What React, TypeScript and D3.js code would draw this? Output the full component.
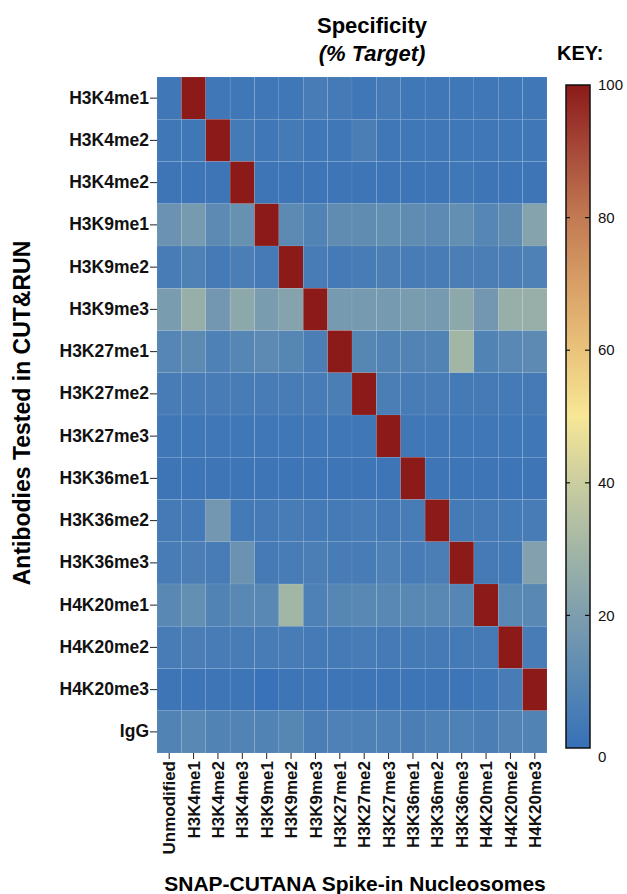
import { useEffect, useRef } from "react";
import * as d3 from "d3";

// antibodies (rows) and spike-in nucleosomes (columns)
const rowLabels = [
  "H3K4me1", "H3K4me2", "H3K4me2", "H3K9me1", "H3K9me2", "H3K9me3",
  "H3K27me1", "H3K27me2", "H3K27me3", "H3K36me1", "H3K36me2", "H3K36me3",
  "H4K20me1", "H4K20me2", "H4K20me3", "IgG",
];
const colLabels = [
  "Unmodified", "H3K4me1", "H3K4me2", "H3K4me3", "H3K9me1", "H3K9me2",
  "H3K9me3", "H3K27me1", "H3K27me2", "H3K27me3", "H3K36me1", "H3K36me2",
  "H3K36me3", "H4K20me1", "H4K20me2", "H4K20me3",
];

// % target, one row per antibody
const specificity = [
  [3, 100, 3, 3, 3, 3, 5, 4, 3, 4, 3, 3, 3, 3, 3, 3],
  [3, 3, 100, 4, 3, 4, 3, 3, 6, 3, 3, 3, 3, 3, 3, 3],
  [2, 2, 2, 100, 2, 2, 2, 2, 2, 2, 2, 2, 3, 2, 2, 2],
  [15, 18, 11, 14, 100, 11, 8, 12, 12, 13, 12, 11, 13, 9, 12, 22],
  [5, 7, 4, 6, 4, 100, 5, 4, 5, 6, 5, 5, 6, 6, 6, 7],
  [19, 27, 17, 24, 19, 22, 100, 18, 18, 18, 19, 18, 24, 17, 27, 27],
  [9, 11, 7, 9, 11, 9, 6, 100, 9, 8, 8, 8, 30, 8, 10, 11],
  [5, 5, 5, 5, 5, 5, 5, 6, 100, 6, 5, 5, 4, 4, 4, 4],
  [3, 3, 3, 3, 3, 3, 3, 3, 3, 100, 3, 3, 3, 3, 3, 3],
  [2, 2, 2, 2, 2, 2, 2, 2, 2, 2, 100, 2, 2, 2, 2, 2],
  [4, 4, 17, 4, 4, 5, 4, 4, 5, 4, 5, 100, 4, 4, 4, 5],
  [5, 6, 5, 15, 4, 5, 6, 5, 5, 7, 5, 6, 100, 4, 4, 21],
  [10, 13, 8, 10, 10, 30, 7, 9, 10, 10, 10, 10, 9, 100, 10, 10],
  [5, 6, 5, 5, 5, 5, 4, 4, 5, 4, 4, 4, 4, 4, 100, 5],
  [2, 2, 2, 2, 1, 2, 2, 2, 2, 2, 2, 2, 2, 3, 5, 100],
  [8, 10, 8, 8, 8, 9, 6, 7, 7, 7, 6, 7, 7, 6, 8, 8],
];

const colorStops = [0, 10, 20, 30, 40, 50, 60, 70, 80, 90, 100];
const colorRange = [
  "#3670b8", "#5888b3", "#7e9eae", "#a2b6a6", "#cacd9f", "#f7e796",
  "#eac37b", "#d89f66", "#c27a52", "#a84a3a", "#8b1a18",
];
const keyTicks = [0, 20, 40, 60, 80, 100];

export default function App() {
  const ref = useRef<SVGSVGElement>(null);

  useEffect(() => {
    const svg = d3.select(ref.current);
    svg.selectAll("*").remove();

    const font = "'Liberation Sans', Arial, Helvetica, sans-serif";
    const left = 157, right = 547, top = 77, bottom = 753;

    const x = d3.scaleBand().domain(colLabels.map((_, i) => String(i))).range([left, right]);
    const y = d3.scaleBand().domain(rowLabels.map((_, i) => String(i))).range([top, bottom]);
    const color = d3.scaleLinear<string>().domain(colorStops).range(colorRange).clamp(true);

    // cells
    const cells = specificity.flatMap((row, r) => row.map((v, c) => ({ r, c, v })));
    svg
      .append("g")
      .selectAll("rect")
      .data(cells)
      .enter()
      .append("rect")
      .attr("x", (d) => x(String(d.c))!)
      .attr("y", (d) => y(String(d.r))!)
      .attr("width", x.bandwidth())
      .attr("height", y.bandwidth())
      .attr("fill", (d) => color(d.v))
      .attr("stroke", "rgba(255,255,255,0.12)")
      .attr("stroke-width", 0.6);

    // row axis
    const yAxis = svg
      .append("g")
      .attr("transform", `translate(${left},0)`)
      .call(d3.axisLeft(y).tickSize(7).tickFormat((d) => rowLabels[+d]));
    yAxis.select(".domain").remove();
    yAxis.selectAll("line").attr("stroke", "#222");
    yAxis
      .selectAll("text")
      .attr("font-family", font)
      .attr("font-size", 17.5)
      .attr("font-weight", "bold")
      .attr("fill", "#111")
      .attr("x", -8);

    // column axis
    const xAxis = svg
      .append("g")
      .attr("transform", `translate(0,${bottom})`)
      .call(d3.axisBottom(x).tickSize(6).tickFormat((d) => colLabels[+d]));
    xAxis.select(".domain").remove();
    xAxis.selectAll("line").attr("stroke", "#222");
    xAxis
      .selectAll("text")
      .attr("font-family", font)
      .attr("font-size", 17)
      .attr("font-weight", "bold")
      .attr("fill", "#111")
      .attr("transform", "rotate(-90)")
      .attr("text-anchor", "end")
      .attr("x", -8)
      .attr("y", 0)
      .attr("dy", "0.36em");

    // titles
    svg.append("text")
      .attr("x", 372).attr("y", 33)
      .attr("text-anchor", "middle")
      .attr("font-family", font).attr("font-size", 22).attr("font-weight", "bold")
      .text("Specificity");
    svg.append("text")
      .attr("x", 372).attr("y", 61)
      .attr("text-anchor", "middle")
      .attr("font-family", font).attr("font-size", 22).attr("font-weight", "bold")
      .attr("font-style", "italic")
      .text("(% Target)");
    svg.append("text")
      .attr("x", 557).attr("y", 60)
      .attr("font-family", font).attr("font-size", 20).attr("font-weight", "bold")
      .text("KEY:");
    svg.append("text")
      .attr("transform", "translate(30,413) rotate(-90)")
      .attr("text-anchor", "middle")
      .attr("font-family", font).attr("font-size", 23).attr("font-weight", "bold")
      .text("Antibodies Tested in CUT&RUN");
    svg.append("text")
      .attr("x", 355).attr("y", 891)
      .attr("text-anchor", "middle")
      .attr("font-family", font).attr("font-size", 21).attr("font-weight", "bold")
      .text("SNAP-CUTANA Spike-in Nucleosomes");

    // colour key
    const kx = 566, kw = 24, ky0 = 85, ky1 = 748;
    const ky = d3.scaleLinear().domain([0, 100]).range([ky1, ky0]);
    const grad = svg
      .append("defs")
      .append("linearGradient")
      .attr("id", "keygrad")
      .attr("x1", 0).attr("y1", 1).attr("x2", 0).attr("y2", 0);
    grad
      .selectAll("stop")
      .data(colorStops)
      .enter()
      .append("stop")
      .attr("offset", (d) => `${d}%`)
      .attr("stop-color", (d) => color(d));
    svg.append("rect")
      .attr("x", kx).attr("y", ky0)
      .attr("width", kw).attr("height", ky1 - ky0)
      .attr("fill", "url(#keygrad)")
      .attr("stroke", "#111").attr("stroke-width", 1.5);

    const inner = keyTicks.filter((t) => t > 0 && t < 100);
    svg.append("g")
      .selectAll("line.l")
      .data(inner)
      .enter()
      .append("line")
      .attr("x1", kx).attr("x2", kx + 4)
      .attr("y1", (d) => ky(d)).attr("y2", (d) => ky(d))
      .attr("stroke", "#111").attr("stroke-width", 1.2);
    svg.append("g")
      .selectAll("line.r")
      .data(inner)
      .enter()
      .append("line")
      .attr("x1", kx + kw - 5).attr("x2", kx + kw)
      .attr("y1", (d) => ky(d)).attr("y2", (d) => ky(d))
      .attr("stroke", "#111").attr("stroke-width", 1.2);
    svg.append("g")
      .selectAll("text")
      .data(keyTicks)
      .enter()
      .append("text")
      .attr("x", 598)
      .attr("y", (d) => ky(d) + (d === 0 ? 9 : 0))
      .attr("dy", "0.35em")
      .attr("font-family", font)
      .attr("font-size", 15)
      .attr("fill", "#111")
      .text((d) => d);
  }, []);

  return (
    <div style={{ position: "absolute", left: 0, top: 0 }}>
      <svg ref={ref} width={627} height={894} style={{ display: "block", background: "#fff" }}></svg>
    </div>
  );
}
